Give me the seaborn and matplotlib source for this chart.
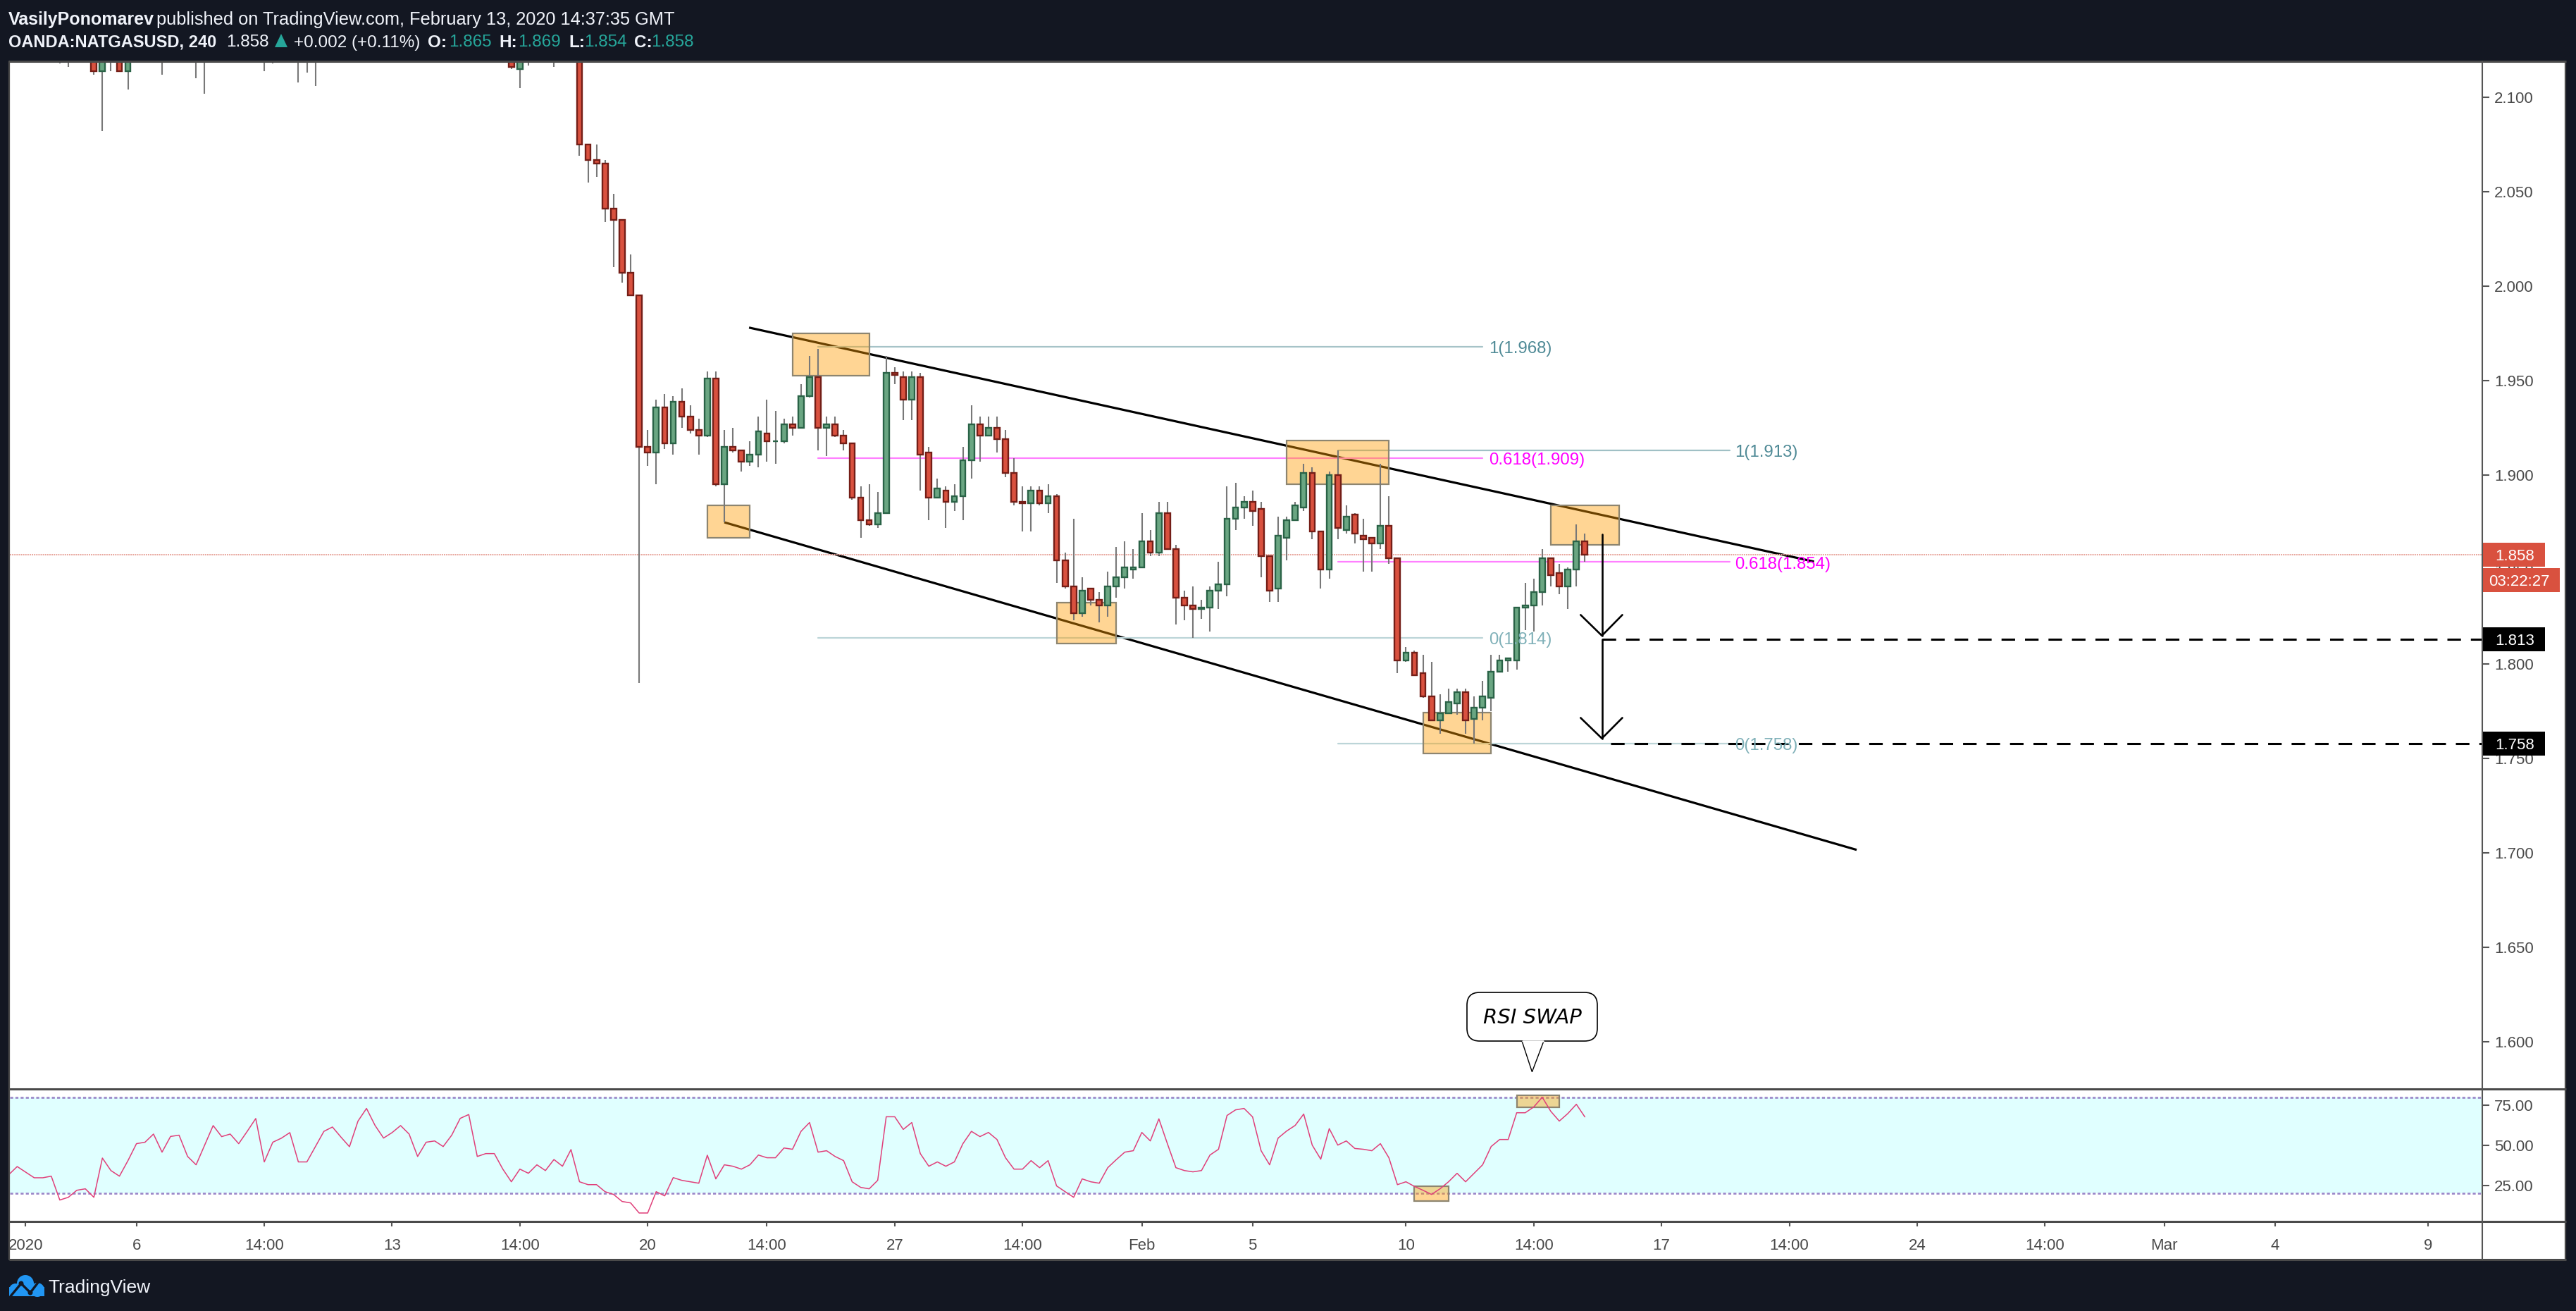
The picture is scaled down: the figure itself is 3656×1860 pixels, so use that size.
import numpy as np
import pandas as pd
import seaborn as sns
import matplotlib.pyplot as plt
from matplotlib.patches import Rectangle, FancyBboxPatch, Polygon, Circle

# candles left of the crash, only the low wicks show under the top edge
pre_idx = [-68, -67, -64, -63, -62, -61, -60, -56, -52, -51, -44, -43, -40, -39, -38, -15, -14, -13, -10, -7]
pre_open = [2.14, 2.13, 2.13, 2.114, 2.13, 2.13, 2.114, 2.135, 2.135, 2.13, 2.13, 2.135, 2.13, 2.135, 2.13, 2.126, 2.115, 2.13, 2.135, 2.136]
pre_high = [2.15, 2.14, 2.14, 2.14, 2.135, 2.135, 2.135, 2.14, 2.14, 2.14, 2.14, 2.14, 2.14, 2.14, 2.14, 2.13, 2.13, 2.14, 2.14, 2.14]
pre_low = [2.118, 2.116, 2.112, 2.082, 2.114, 2.114, 2.104, 2.112, 2.110, 2.102, 2.114, 2.118, 2.108, 2.113, 2.106, 2.115, 2.105, 2.117, 2.116, 2.069]
pre_close = [2.135, 2.135, 2.114, 2.13, 2.125, 2.114, 2.13, 2.13, 2.13, 2.125, 2.125, 2.13, 2.125, 2.13, 2.125, 2.116, 2.124, 2.125, 2.13, 2.075]

# bars -6 .. 111
opens = [2.075, 2.067, 2.065, 2.041, 2.035, 2.007,
    1.995, 1.915, 1.912, 1.936, 1.917, 1.939, 1.931, 1.924, 1.921, 1.951,
    1.895, 1.915, 1.913, 1.907, 1.911, 1.922, 1.918, 1.918, 1.927, 1.925,
    1.942, 1.952, 1.925, 1.927, 1.921, 1.917, 1.888, 1.876, 1.874, 1.880,
    1.954, 1.952, 1.940, 1.952, 1.912, 1.888, 1.892, 1.886, 1.889, 1.908,
    1.927, 1.921, 1.925, 1.919, 1.901, 1.886, 1.885, 1.892, 1.885, 1.889,
    1.855, 1.841, 1.827, 1.840, 1.834, 1.831, 1.841, 1.846, 1.850, 1.851,
    1.865, 1.859, 1.880, 1.861, 1.835, 1.831, 1.829, 1.830, 1.839, 1.842,
    1.877, 1.883, 1.886, 1.882, 1.857, 1.840, 1.867, 1.876, 1.883, 1.901,
    1.870, 1.850, 1.900, 1.871, 1.879, 1.868, 1.867, 1.864, 1.873, 1.856,
    1.802, 1.806, 1.795, 1.783, 1.770, 1.774, 1.779, 1.785, 1.771, 1.777,
    1.782, 1.796, 1.802, 1.802, 1.830, 1.831, 1.838, 1.856, 1.848, 1.841,
    1.850, 1.865]
highs = [2.075, 2.075, 2.067, 2.049, 2.035, 2.017,
    1.995, 1.924, 1.940, 1.943, 1.942, 1.946, 1.937, 1.930, 1.955, 1.955,
    1.924, 1.925, 1.913, 1.918, 1.931, 1.940, 1.934, 1.930, 1.931, 1.948,
    1.963, 1.967, 1.931, 1.931, 1.924, 1.917, 1.894, 1.895, 1.891, 1.963,
    1.957, 1.955, 1.955, 1.954, 1.915, 1.898, 1.894, 1.895, 1.915, 1.937,
    1.931, 1.931, 1.931, 1.924, 1.909, 1.894, 1.894, 1.894, 1.895, 1.890,
    1.859, 1.877, 1.846, 1.840, 1.838, 1.849, 1.862, 1.865, 1.861, 1.880,
    1.871, 1.886, 1.886, 1.863, 1.839, 1.841, 1.834, 1.841, 1.854, 1.894,
    1.896, 1.889, 1.892, 1.886, 1.857, 1.878, 1.878, 1.886, 1.906, 1.904,
    1.870, 1.902, 1.913, 1.884, 1.880, 1.877, 1.867, 1.906, 1.889, 1.856,
    1.809, 1.807, 1.805, 1.801, 1.784, 1.787, 1.787, 1.787, 1.783, 1.791,
    1.805, 1.805, 1.803, 1.830, 1.843, 1.845, 1.861, 1.856, 1.853, 1.851,
    1.874, 1.869]
lows = [2.055, 2.058, 2.034, 2.010, 2.002, 1.995,
    1.790, 1.905, 1.895, 1.914, 1.911, 1.925, 1.922, 1.911, 1.920, 1.894,
    1.875, 1.912, 1.902, 1.905, 1.904, 1.907, 1.906, 1.917, 1.921, 1.925,
    1.941, 1.913, 1.910, 1.920, 1.913, 1.887, 1.867, 1.873, 1.872, 1.880,
    1.948, 1.929, 1.929, 1.892, 1.876, 1.888, 1.872, 1.881, 1.876, 1.898,
    1.907, 1.921, 1.912, 1.899, 1.884, 1.870, 1.870, 1.884, 1.880, 1.843,
    1.840, 1.823, 1.825, 1.831, 1.822, 1.825, 1.835, 1.840, 1.845, 1.851,
    1.857, 1.857, 1.861, 1.821, 1.823, 1.814, 1.824, 1.817, 1.829, 1.836,
    1.871, 1.877, 1.873, 1.846, 1.833, 1.833, 1.855, 1.876, 1.881, 1.866,
    1.840, 1.845, 1.866, 1.869, 1.864, 1.849, 1.849, 1.861, 1.853, 1.795,
    1.801, 1.794, 1.782, 1.770, 1.763, 1.774, 1.773, 1.763, 1.758, 1.770,
    1.775, 1.796, 1.796, 1.797, 1.818, 1.817, 1.831, 1.841, 1.837, 1.829,
    1.841, 1.854]
closes = [2.067, 2.065, 2.041, 2.035, 2.007, 1.995,
    1.915, 1.912, 1.936, 1.917, 1.939, 1.931, 1.924, 1.921, 1.951, 1.895,
    1.915, 1.913, 1.907, 1.911, 1.923, 1.918, 1.918, 1.927, 1.925, 1.942,
    1.952, 1.925, 1.927, 1.921, 1.917, 1.888, 1.876, 1.874, 1.880, 1.954,
    1.953, 1.940, 1.952, 1.911, 1.888, 1.893, 1.886, 1.889, 1.908, 1.927,
    1.921, 1.925, 1.919, 1.901, 1.886, 1.885, 1.892, 1.885, 1.889, 1.855,
    1.841, 1.827, 1.839, 1.834, 1.831, 1.841, 1.846, 1.851, 1.851, 1.865,
    1.859, 1.880, 1.861, 1.835, 1.831, 1.829, 1.830, 1.839, 1.842, 1.877,
    1.883, 1.886, 1.881, 1.857, 1.839, 1.868, 1.876, 1.884, 1.901, 1.870,
    1.850, 1.900, 1.872, 1.878, 1.869, 1.866, 1.864, 1.873, 1.856, 1.802,
    1.806, 1.794, 1.783, 1.770, 1.774, 1.780, 1.785, 1.770, 1.777, 1.783,
    1.796, 1.802, 1.803, 1.830, 1.831, 1.838, 1.856, 1.847, 1.841, 1.850,
    1.865, 1.858]

# rsi from bar -74 to bar 111
rsi_vals = [31.6, 36.7, 33.2, 29.7, 29.7, 30.7, 15.8, 17.5, 21.9, 22.8,
    17.5, 42.0, 34.2, 30.7, 40.4, 51.0, 51.9, 57.0, 45.7, 55.5,
    56.3, 43.0, 37.8, 50.1, 62.3, 55.4, 57.0, 51.0, 58.7, 66.7,
    39.6, 51.9, 54.4, 57.9, 39.6, 39.6, 49.2, 58.7, 61.4, 55.1,
    49.1, 65.1, 73.0, 62.4, 54.5, 57.9, 62.3, 57.0, 43.0, 51.9,
    52.7, 49.2, 56.3, 66.8, 69.2, 43.0, 44.8, 44.8, 35.1, 27.2,
    35.1, 32.5, 37.8, 34.2, 41.1, 36.9, 47.3, 27.2, 25.4, 25.4,
    21.0, 19.3, 14.9, 14.0, 7.7, 7.7, 21.0, 18.4, 29.8, 28.1,
    27.2, 26.3, 43.8, 29.0, 37.8, 36.9, 35.1, 37.8, 43.9, 42.2,
    42.2, 48.3, 47.5, 58.7, 64.2, 45.7, 46.6, 43.0, 40.4, 27.2,
    23.7, 22.8, 28.1, 67.8, 67.8, 59.9, 64.2, 44.8, 36.9, 39.6,
    36.9, 39.6, 51.0, 58.7, 55.4, 58.0, 53.6, 42.2, 35.1, 35.1,
    40.4, 36.0, 40.4, 24.6, 21.0, 17.5, 29.0, 27.2, 26.3, 36.0,
    41.0, 45.7, 46.6, 58.0, 52.7, 66.5, 51.0, 36.0, 34.2, 33.4,
    34.2, 43.9, 47.5, 68.6, 72.1, 73.0, 67.7, 46.6, 37.8, 54.5,
    58.9, 62.4, 69.5, 50.1, 41.3, 60.4, 50.1, 52.7, 48.0, 47.5,
    46.6, 51.0, 42.2, 25.4, 27.2, 24.3, 21.9, 19.3, 22.8, 27.2,
    32.5, 27.2, 32.5, 37.8, 49.2, 53.6, 53.6, 70.3, 70.3, 73.9,
    80.0, 71.2, 65.1, 69.8, 75.6, 67.7]

price_ticks = [1.60, 1.65, 1.70, 1.75, 1.80, 1.85, 1.90, 1.95, 2.00, 2.05, 2.10]
rsi_ticks = [25, 50, 75]
time_idx = [-72, -59, -44, -29, -14, 1, 15, 30, 45, 59, 72, 90, 105, 120, 135, 150, 165, 179, 192, 210]
time_labels = ['2020', '6', '14:00', '13', '14:00', '20', '14:00', '27', '14:00', 'Feb', '5', '10', '14:00',
               '17', '14:00', '24', '14:00', 'Mar', '4', '9']

# drawings: boxes are (idx0, idx1, price0, price1)
boxes = [(18, 27, 1.9525, 1.9751), (8, 13, 1.8668, 1.8841), (49, 56, 1.8107, 1.8326),
         (76, 88, 1.8950, 1.9184), (107, 115, 1.8629, 1.8841), (92, 100, 1.7525, 1.7744)]
rsi_boxes = [(91, 95, 15.3, 24.3), (103, 108, 73.7, 81.2)]
upper_x, upper_y = [12.9, 137.9], [1.9781, 1.8542]
lower_x, lower_y = [10, 142.9], [1.875, 1.7016]

W, H = 3656, 1860
DARK = '#131722'
RED = '#d9513f'
GREEN = '#6aa682'
ORANGE = (1.0, 0.615, 0.0, 0.42)
LINE = '#555555'


def pax(x0, y0, x1, y1):
    return [x0 / W, 1 - y1 / H, (x1 - x0) / W, (y1 - y0) / H]


bars = pd.DataFrame({
    'idx': pre_idx + list(range(-6, 112)),
    'o': pre_open + opens,
    'h': pre_high + highs,
    'l': pre_low + lows,
    'c': pre_close + closes,
})
bars['up'] = bars['c'] >= bars['o']
rsi = pd.DataFrame({'idx': np.arange(-74, -74 + len(rsi_vals)), 'val': rsi_vals})

sns.set_theme(style='white')
plt.rcParams['font.family'] = ['Liberation Sans', 'DejaVu Sans']

fig = plt.figure(figsize=(W / 100, H / 100), dpi=100, facecolor=DARK)

bg = fig.add_axes([0, 0, 1, 1], zorder=-1)
bg.set_xlim(0, W)
bg.set_ylim(H, 0)
bg.axis('off')
bg.add_patch(Rectangle((13, 86), 3629, 1701, fc='white', ec='none'))

ax = fig.add_axes(pax(14, 88, 3522.6, 1545), facecolor='white')
ax_rsi = fig.add_axes(pax(14, 1545, 3522.6, 1733), facecolor='white')
xlim = (-73.86, 216.3)

# candles
ax.vlines(bars['idx'], bars['l'], bars['h'], color='#787878', lw=1.5, zorder=3)
for up, fc, ec in [(True, GREEN, '#2a6347'), (False, RED, '#741e17')]:
    b = bars[bars['up'] == up]
    bottom = b[['o', 'c']].min(axis=1)
    ax.bar(b['idx'], (b['c'] - b['o']).abs(), bottom=bottom, width=0.64, color=fc, edgecolor=ec, linewidth=1.7, zorder=4)

# channel
ax.plot(upper_x, upper_y, color='black', lw=2.3, zorder=1, solid_capstyle='butt')
ax.plot(lower_x, lower_y, color='black', lw=2.3, zorder=1, solid_capstyle='butt')

for x0, x1, y0, y1 in boxes:
    ax.add_patch(Rectangle((x0, y0), x1 - x0, y1 - y0, fc=ORANGE, ec='#8d8570', lw=1.6, zorder=2))

# fib levels
for x0, x1, lev, col, lab, txt, lx in [
    (21, 99, 1.968, '#a6c3c8', '1(1.968)', '#4f8a96', 99.75),
    (21, 99, 1.909, '#ff80ff', '0.618(1.909)', '#ff00ff', 99.75),
    (21, 99, 1.814, '#bcd5d8', '0(1.814)', '#7fb0b8', 99.75),
    (82, 128, 1.913, '#a0c0c5', '1(1.913)', '#4f8a96', 128.6),
    (82, 128, 1.854, '#ff80ff', '0.618(1.854)', '#ff00ff', 128.6),
    (82, 128, 1.758, '#bcd5d8', '0(1.758)', '#7fb0b8', 128.6),
]:
    ax.plot([x0, x1], [lev, lev], color=col, lw=1.6, zorder=1.5)
    ax.text(lx, lev - 0.0012, lab, color=txt, fontsize=17.3, va='center', zorder=6)

ax.axhline(1.858, color='#e8a59c', lw=1.4, ls=(0, (1, 0.6)), zorder=1)

# targets and arrows
ax.plot([113, xlim[1]], [1.813, 1.813], color='black', lw=2.2, ls=(0, (6.3, 4.6)), zorder=5)
ax.plot([114, xlim[1]], [1.758, 1.758], color='black', lw=2.2, ls=(0, (6.3, 4.6)), zorder=5)
ax.plot([113, 113], [1.8685, 1.815], color='black', lw=1.9, zorder=5)
ax.plot([113, 113], [1.813, 1.7606], color='black', lw=1.9, zorder=5)
ax.plot([110.5, 113, 115.4], [1.826, 1.815, 1.826], color='black', lw=1.9, zorder=5)
ax.plot([110.5, 113, 115.4], [1.7715, 1.7606, 1.7715], color='black', lw=1.9, zorder=5)

ax.set_xlim(xlim)
ax.set_ylim(1.575, 2.1187)
ax.set_xticks([])
ax.set_yticks(price_ticks)
ax.set_yticklabels(['%.3f' % p for p in price_ticks])
ax.yaxis.tick_right()
ax.tick_params(axis='y', length=7, width=1.5, color=LINE, labelcolor='#4a4a4a', labelsize=16, pad=5.5, right=True)

# rsi pane
ax_rsi.axhspan(20, 80, color='#e0ffff', lw=0, zorder=0)
for lev in [80, 20]:
    ax_rsi.axhline(lev, color='#9a86c8', lw=1.9, ls=(0, (1.6, 1.2)), zorder=1)
sns.lineplot(data=rsi, x='idx', y='val', ax=ax_rsi, color='#e0407a', linewidth=1.1, zorder=4)
for x0, x1, y0, y1 in rsi_boxes:
    ax_rsi.add_patch(Rectangle((x0, y0), x1 - x0, y1 - y0, fc=ORANGE, ec='#8d8570', lw=1.6, zorder=3))
ax_rsi.set_xlim(xlim)
ax_rsi.set_ylim(2.4, 85.15)
ax_rsi.set_xlabel('')
ax_rsi.set_ylabel('')
ax_rsi.set_yticks(rsi_ticks)
ax_rsi.set_yticklabels(['%.2f' % v for v in rsi_ticks])
ax_rsi.yaxis.tick_right()
ax_rsi.set_xticks(time_idx)
ax_rsi.set_xticklabels(time_labels)
ax_rsi.tick_params(axis='y', length=7, width=1.5, color=LINE, labelcolor='#4a4a4a', labelsize=16, pad=5.5, right=True)
ax_rsi.tick_params(axis='x', length=5, width=1.5, color=LINE, labelcolor='#4a4a4a', labelsize=16, pad=12, bottom=True)

for a in [ax, ax_rsi]:
    for s in a.spines.values():
        s.set_visible(False)

# overlay in pixels for the frame, price tags, header and logo
ov = fig.add_axes([0, 0, 1, 1], zorder=10)
ov.set_xlim(0, W)
ov.set_ylim(H, 0)
ov.axis('off')
ov.patch.set_alpha(0)

for y in [87, 1545, 1733, 1787]:
    ov.plot([13, 3642], [y, y], color='#4a4a4a', lw=2.2, solid_capstyle='butt')
ov.plot([13, 13], [87, 1787], color='#4a4a4a', lw=1.6)
ov.plot([3641, 3641], [87, 1787], color='#4a4a4a', lw=1.6)
ov.plot([3522.6, 3522.6], [87, 1787], color=LINE, lw=1.5)


def tag(x1, y0, y1, fc, label, tx):
    ov.add_patch(Rectangle((3522, y0), x1 - 3522, y1 - y0, fc=fc, ec='none'))
    ov.text(tx, (y0 + y1) / 2, label, color='white', fontsize=16, va='center_baseline', ha='left')


tag(3612, 770, 804, RED, '1.858', 3541)
tag(3633, 806, 840, RED, '03:22:27', 3532)
tag(3612, 890, 924, 'black', '1.813', 3541)
tag(3612, 1038, 1072, 'black', '1.758', 3541)

# callout
ov.add_patch(FancyBboxPatch((2097, 1423), 155, 39, boxstyle='round,pad=15,rounding_size=18', fc='white', ec='black', lw=1.2))
ov.add_patch(Polygon([(2160, 1477), (2174.4, 1520.7), (2191, 1477)], closed=False, fc='white', ec='black', lw=1.0))
ov.plot([2161, 2190], [1477.3, 1477.3], color='white', lw=1.8)
ov.text(2174.5, 1441, 'RSI SWAP', style='italic', fontsize=21, color='black', ha='center', va='center_baseline', family=['DejaVu Sans'])

# header
WHITE = '#f0f3fa'
TEAL = '#26a69a'
ov.text(12, 25, 'VasilyPonomarev', color=WHITE, fontsize=18, fontweight='bold', va='center_baseline')
ov.text(222, 25, 'published on TradingView.com, February 13, 2020 14:37:35 GMT', color=WHITE, fontsize=18.3, va='center_baseline')
ov.text(12, 58, 'OANDA:NATGASUSD, 240', color=WHITE, fontsize=17, fontweight='bold', va='center_baseline')
ov.text(321, 58, '1.858', color=WHITE, fontsize=17.5, va='center_baseline')
ov.add_patch(Polygon([(390, 67), (399, 48), (408, 67)], fc=TEAL, ec='none'))
ov.text(417, 58, '+0.002 (+0.11%)', color=WHITE, fontsize=17.5, va='center_baseline')
for x, lab, vx, val in [(607, 'O:', 637, '1.865'), (708, 'H:', 735, '1.869'), (807, 'L:', 829, '1.854'), (900, 'C:', 924, '1.858')]:
    ov.text(x, 58, lab, color=WHITE, fontsize=17.5, fontweight='bold', va='center_baseline')
    ov.text(vx, 58, val, color=TEAL, fontsize=17.5, va='center_baseline')

# logo
BLUE = '#2196f3'
for cx, cy, r in [(36, 1821, 12), (22, 1830, 9), (53, 1830, 10)]:
    ov.add_patch(Circle((cx, cy), r, fc=BLUE, ec='none'))
ov.add_patch(Rectangle((13, 1826), 50, 13, fc=BLUE, ec='none'))
ov.plot([15, 30, 43, 56], [1839, 1821, 1834, 1817], color=DARK, lw=2.4)
ov.add_patch(Circle((30, 1821), 3.5, fc=DARK, ec='none'))
ov.add_patch(Circle((43, 1834), 3.5, fc=DARK, ec='none'))
ov.text(68, 1824, 'TradingView', color=WHITE, fontsize=19, va='center_baseline')

fig.savefig('out.png', dpi=100, facecolor=fig.get_facecolor())
